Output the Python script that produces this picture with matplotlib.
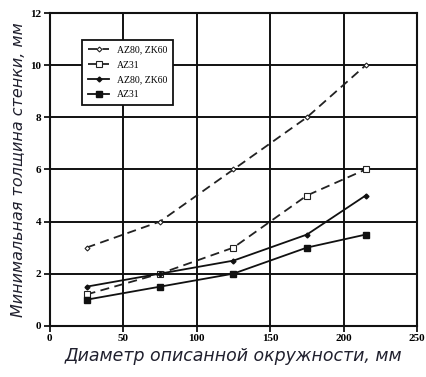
import matplotlib
matplotlib.use("Agg")
import matplotlib.pyplot as plt

# Diameter of circumscribed circle, mm
diam = [25, 75, 125, 175, 215]

# Minimal wall thickness, mm
az80_zk60_dash = [3, 4, 6, 8, 10]
az31_dash = [1.2, 2, 3, 5, 6]
az80_zk60_solid = [1.5, 2, 2.5, 3.5, 5]
az31_solid = [1, 1.5, 2, 3, 3.5]

xticks = [0, 50, 100, 150, 200, 250]
yticks = [0, 2, 4, 6, 8, 10, 12]

fig = plt.figure(figsize=(4.26, 3.77), dpi=100)
ax = fig.add_axes([0.117, 0.136, 0.862, 0.829])

dash = (0, (5, 3))
ax.plot(diam, az80_zk60_dash, color='#222', lw=1.3, ls=dash, marker='D', ms=2.5,
        mfc='white', mec='#222', mew=0.8, label='AZ80, ZK60')
ax.plot(diam, az31_dash, color='#222', lw=1.3, ls=dash, marker='s', ms=4,
        mfc='white', mec='#222', mew=0.8, label='AZ31')
ax.plot(diam, az80_zk60_solid, color='#111', lw=1.3, marker='D', ms=2.5,
        label='AZ80, ZK60')
ax.plot(diam, az31_solid, color='#111', lw=1.3, marker='s', ms=4,
        label='AZ31')

ax.set_xlim(0, 250)
ax.set_ylim(0, 12)
ax.set_xticks(xticks)
ax.set_yticks(yticks)
ax.grid(True, color='#111', lw=1.4)
ax.set_axisbelow(True)
for s in ax.spines.values():
    s.set_linewidth(1.5)
    s.set_color('#111')
ax.tick_params(direction='out', length=4, width=1.2, pad=2,
               labelsize=8)
for lab in ax.get_xticklabels() + ax.get_yticklabels():
    lab.set_family('Liberation Serif')
    lab.set_fontweight('bold')

lab_color = '#20202e'
ax.set_xlabel('Диаметр описанной окружности, мм', fontsize=12.5,
              style='italic', color=lab_color, labelpad=3)
ax.set_ylabel('Минимальная толщина стенки, мм', fontsize=11.5,
              style='italic', color=lab_color, labelpad=3)

leg = ax.legend(loc='upper left', bbox_to_anchor=(0.075, 0.93),
                prop={'family': 'Liberation Serif', 'size': 7},
                handlelength=2.2, frameon=True, fancybox=False,
                edgecolor='#111', framealpha=1, borderpad=0.6,
                labelspacing=0.6)
leg.get_frame().set_linewidth(1.3)

fig.savefig('out.png', dpi=100)
